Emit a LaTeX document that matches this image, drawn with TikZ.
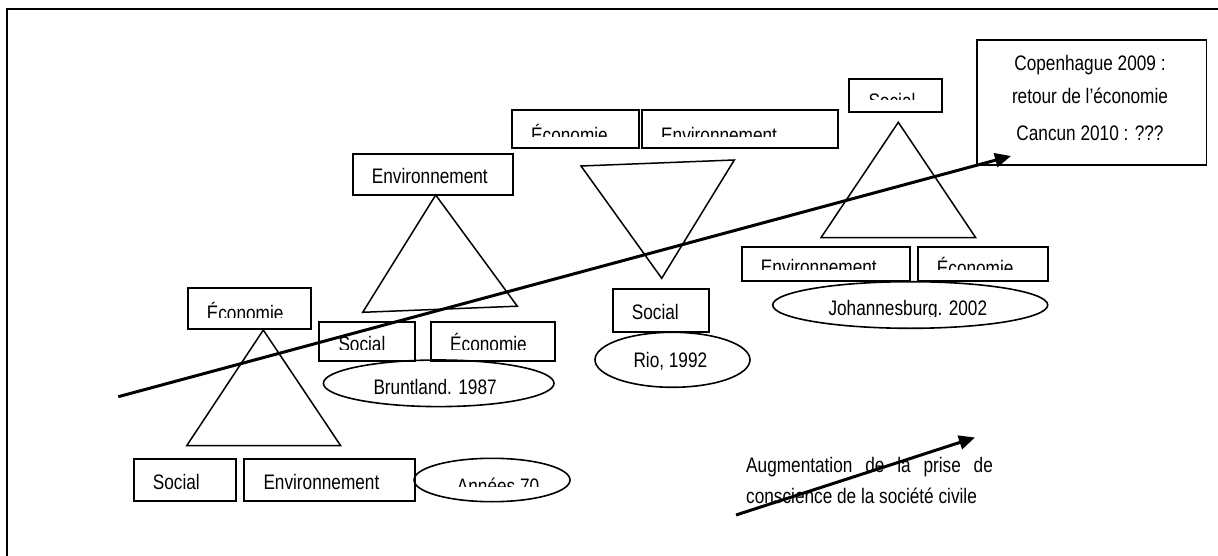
\documentclass[tikz,border=0pt]{standalone}
\usepackage{fontspec}
\newfontfamily\narrowsf[FakeStretch=0.82]{Liberation Sans}
\usetikzlibrary{shapes.geometric,arrows.meta}

\tikzset{
  frameline/.style={line width=2pt},
  boxline/.style={draw, rectangle, line width=1.8pt, inner sep=0pt, anchor=north west},
  ovalline/.style={draw, ellipse, line width=1.6pt, inner sep=0pt},
  tri/.style={line width=1.5pt, line join=miter},
  lbl/.style={font=\narrowsf\fontsize{21}{25}\selectfont, inner sep=0pt, anchor=base west},
  clbl/.style={lbl, anchor=base},
  trend/.style={line width=3pt, -{Triangle[length=16pt,width=14pt]}},
}

% rectangle with a label whose lower part is cut off at a given height
% #1 name, #2 #3 top-left, #4 #5 bottom-right, #6 baseline, #7 cut line, #8 text
\newcommand\labbox[8]{%
  \node[boxline, minimum width={#4-#2}, minimum height={#5-#3}] (#1) at (#2,#3) {};
  \begin{scope}
    \clip (#2,#3) rectangle (#4,#7);
    \node[lbl] (#1-text) at (#2+20,#6) {#8};
  \end{scope}
}

% ellipse with a label, cut off the same way
% #1 name, #2 #3 centre, #4 #5 radii, #6 text start, #7 baseline, #8 cut line, #9 text
\newcommand\labeloval[9]{%
  \node[ovalline, minimum width={2*#4}, minimum height={2*#5}] (#1) at (#2,#3) {};
  \begin{scope}
    \clip (#2-#4,#3-#5) rectangle (#2+#4,#8);
    \node[lbl] (#1-text) at (#6,#7) {#9};
  \end{scope}
}

\begin{document}
\begin{tikzpicture}[x=1pt, y=-1pt]
\useasboundingbox (0,0) rectangle (1218,556);

% page frame
\draw[frameline] (7,560) -- (7,9) -- (1222,9);

% --- Années 70 ---
\labbox{ecoA}{186.7}{287.3}{310}{327.7}{320}{317.7}{Économie}
\draw[tri] (263.3,330) -- (186.7,445.7) -- (340.7,445.7) -- cycle;
\labbox{socA}{132.7}{458.3}{234.7}{500}{489.3}{491}{Social}
\labbox{envA}{243.3}{458.3}{414.3}{500}{489.3}{491}{Environnement}
\labeloval{dateA}{492}{480}{78}{21.7}{456.7}{493.3}{486.7}{Années 70}

% --- Bruntland 1987 ---
\labbox{envB}{351.7}{153.3}{511.7}{194.3}{184}{185.5}{Environnement}
\draw[tri] (435.7,195) -- (362.7,312.3) -- (517.3,306.2) -- cycle;
\labbox{socB}{318.3}{320.7}{414.3}{360}{351}{349.3}{Social}
\labbox{ecoB}{430}{320.7}{554}{360}{351}{349.3}{Économie}
\labeloval{dateB}{438.7}{383.3}{115.3}{23.3}{373.3}{394.3}{400}{Bruntland. 1987}

% --- Rio 1992 ---
\labbox{ecoR}{511}{109.3}{638.3}{147.3}{142.7}{136.7}{Économie}
\labbox{envR}{641}{109.3}{836.7}{147.3}{142.7}{136.7}{Environnement}
\draw[tri] (581,166) -- (734.3,160) -- (661.7,278.3) -- cycle;
\labbox{socR}{611.7}{288.3}{707.7}{330.7}{319}{321}{Social}
\labeloval{dateR}{672.5}{359.8}{77.5}{27.5}{633.3}{367.3}{380}{Rio, 1992}

% --- Johannesburg 2002 ---
\labbox{socJ}{848.3}{78.3}{940.7}{111}{108.3}{100}{Social}
\draw[tri] (898.3,122.3) -- (821,237.7) -- (975.7,237.7) -- cycle;
\labbox{envJ}{740.7}{245.7}{909.3}{280}{274.5}{269}{Environnement}
\labbox{ecoJ}{916.7}{245.7}{1047.3}{280}{275}{269}{Économie}
\labeloval{dateJ}{910.2}{305}{137.5}{23.3}{828.3}{315.7}{316}{Johannesburg. 2002}

% --- Copenhague / Cancun ---
\node[boxline, minimum width=229.8, minimum height=124.7] (copen) at (975.7,39.3) {};
\node[clbl] (copen1) at (1090,70.7) {Copenhague 2009 :};
\node[clbl] (copen2) at (1090,103.3) {retour de l’économie};
\node[clbl] (copen3) at (1090,140.7) {Cancun 2010 : ???};

% --- legend ---
\node[lbl] (key1) at (746,472.3) {\makebox[246.7pt][s]{Augmentation de la prise de}};
\node[lbl] (key2) at (746,503.3) {conscience de la société civile};

% awareness trend arrows
\coordinate (trendstart) at (118.3,396.7);
\coordinate (trendend) at (1011,156);
\draw[trend] (trendstart) -- (trendend);
\coordinate (keystart) at (736,515);
\coordinate (keyend) at (975,437.5);
\draw[trend] (keystart) -- (keyend);
\end{tikzpicture}
\end{document}
